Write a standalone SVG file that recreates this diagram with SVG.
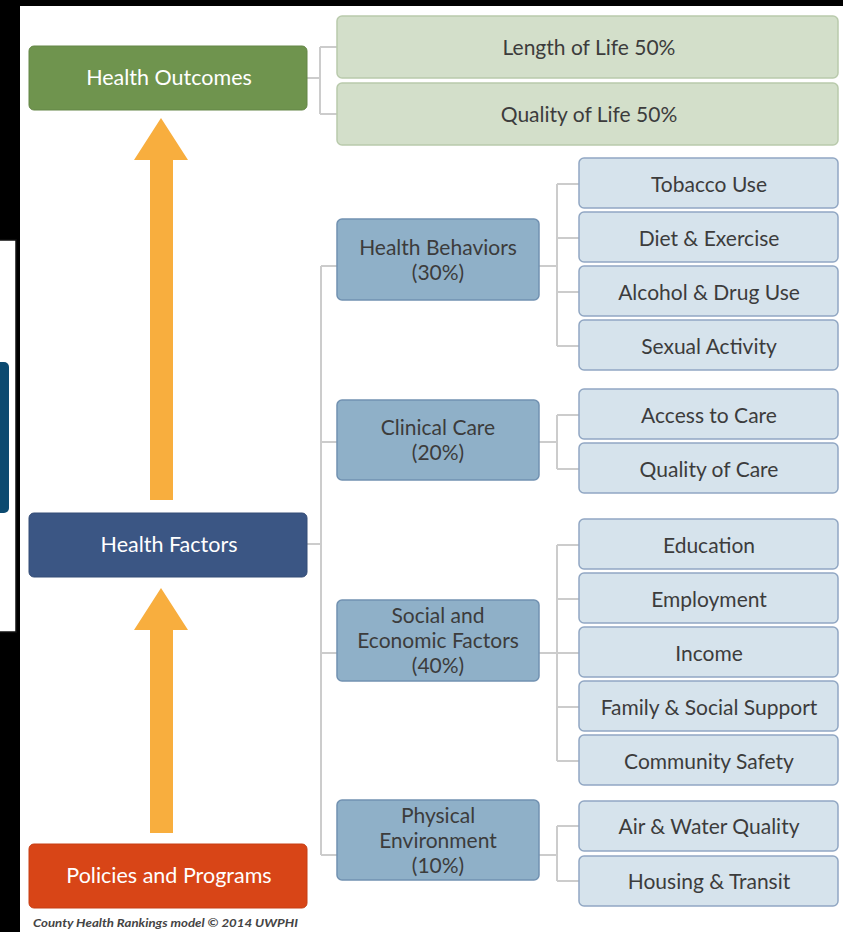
<svg xmlns="http://www.w3.org/2000/svg" width="843" height="932" viewBox="0 0 843 932">
<style>
  .t { font-family: Lato, "Open Sans", "Liberation Sans", sans-serif; text-anchor: middle; dominant-baseline: central; }
  .main { font-size: 21.5px; fill: #ffffff; }
  .lbl { font-size: 21px; fill: #3c3c3c; }
  .green { fill: #d3dfca; stroke: #b9caac; stroke-width: 1.5; }
  .mid { fill: #8fb0c8; stroke: #7191b1; stroke-width: 1.5; }
  .leaf { fill: #d6e3ec; stroke: #91a7c3; stroke-width: 1.5; }
  .conn { fill: none; stroke: #cccccc; stroke-width: 2; }
  .arrow { fill: #f8ae3e; }
</style>
<rect x="0" y="0" width="843" height="932" fill="#000000"/>
<rect x="20" y="6" width="823" height="926" fill="#ffffff"/>
<g id="left-fragment">
  <rect x="-2" y="240" width="18" height="392" fill="#ffffff" stroke="#111111" stroke-width="1.5"/>
  <path d="M0,362 H4 A5,5 0 0 1 9,367 V508 A5,5 0 0 1 4,513 H0 Z" fill="#0c4a70"/>
</g>
<g id="connectors">
  <path class="conn" d="M307,78 H320 M320,47 V114 M320,47 H337 M320,114 H337"/>
  <path class="conn" d="M307,544 H321 M321,266 V855 M321,266 H337 M321,442 H337 M321,653 H337 M321,855 H337"/>
  <path class="conn" d="M539,266 H557 M557,184 V346 M557,184 H579 M557,238 H579 M557,292 H579 M557,346 H579"/>
  <path class="conn" d="M539,442 H557 M557,415 V469 M557,415 H579 M557,469 H579"/>
  <path class="conn" d="M539,653 H557 M557,545 V761 M557,545 H579 M557,599 H579 M557,653 H579 M557,707 H579 M557,761 H579"/>
  <path class="conn" d="M539,855 H557 M557,826 V881 M557,826 H579 M557,881 H579"/>
</g>
<g id="arrow-outcomes">
  <path class="arrow" d="M161,118 L188,160 L173,160 L173,500 L150,500 L150,160 L134,160 Z"/>
</g>
<g id="arrow-factors">
  <path class="arrow" d="M161,588 L188,630 L173,630 L173,833 L150,833 L150,630 L134,630 Z"/>
</g>
<g id="health-outcomes">
  <rect x="29" y="46" width="278" height="64" rx="5" fill="#6f944e" stroke="#648646" stroke-width="1"/>
  <text class="t main" x="169" y="77">Health Outcomes</text>
</g>
<g id="health-factors">
  <rect x="29" y="513" width="278" height="64" rx="5" fill="#3b5684" stroke="#344c76" stroke-width="1"/>
  <text class="t main" x="169" y="544">Health Factors</text>
</g>
<g id="policies-programs">
  <rect x="29" y="844" width="278" height="64" rx="5" fill="#d84517" stroke="#c63e14" stroke-width="1"/>
  <text class="t main" x="169" y="875">Policies and Programs</text>
</g>
<text x="33" y="922" font-family="Lato, 'Open Sans', 'Liberation Sans', sans-serif" font-size="11" font-style="italic" font-weight="bold" fill="#444444" textLength="265" lengthAdjust="spacingAndGlyphs" dominant-baseline="central">County Health Rankings model © 2014 UWPHI</text>
<g id="length-of-life">
  <rect class="green" x="337" y="16" width="501" height="62" rx="5"/>
  <text class="t lbl" x="589" y="46">Length of Life 50%</text>
</g>
<g id="quality-of-life">
  <rect class="green" x="337" y="83" width="501" height="62" rx="5"/>
  <text class="t lbl" x="589" y="113">Quality of Life 50%</text>
</g>
<g id="health-behaviors">
  <rect class="mid" x="337" y="219" width="202" height="81" rx="5"/>
  <text class="t lbl" x="438" y="246">Health Behaviors</text>
  <text class="t lbl" x="438" y="271">(30%)</text>
</g>
<g id="clinical-care">
  <rect class="mid" x="337" y="400" width="202" height="80" rx="5"/>
  <text class="t lbl" x="438" y="426">Clinical Care</text>
  <text class="t lbl" x="438" y="451">(20%)</text>
</g>
<g id="social-economic">
  <rect class="mid" x="337" y="600" width="202" height="81" rx="5"/>
  <text class="t lbl" x="438" y="614">Social and</text>
  <text class="t lbl" x="438" y="639">Economic Factors</text>
  <text class="t lbl" x="438" y="664">(40%)</text>
</g>
<g id="physical-environment">
  <rect class="mid" x="337" y="800" width="202" height="80" rx="5"/>
  <text class="t lbl" x="438" y="814">Physical</text>
  <text class="t lbl" x="438" y="839">Environment</text>
  <text class="t lbl" x="438" y="864">(10%)</text>
</g>
<g id="tobacco-use">
  <rect class="leaf" x="579" y="158" width="259" height="50" rx="5"/>
  <text class="t lbl" x="709" y="183">Tobacco Use</text>
</g>
<g id="diet-exercise">
  <rect class="leaf" x="579" y="212" width="259" height="50" rx="5"/>
  <text class="t lbl" x="709" y="237">Diet &amp; Exercise</text>
</g>
<g id="alcohol-drug-use">
  <rect class="leaf" x="579" y="266" width="259" height="50" rx="5"/>
  <text class="t lbl" x="709" y="291">Alcohol &amp; Drug Use</text>
</g>
<g id="sexual-activity">
  <rect class="leaf" x="579" y="320" width="259" height="50" rx="5"/>
  <text class="t lbl" x="709" y="345">Sexual Activity</text>
</g>
<g id="access-to-care">
  <rect class="leaf" x="579" y="389" width="259" height="50" rx="5"/>
  <text class="t lbl" x="709" y="414">Access to Care</text>
</g>
<g id="quality-of-care">
  <rect class="leaf" x="579" y="443" width="259" height="50" rx="5"/>
  <text class="t lbl" x="709" y="468">Quality of Care</text>
</g>
<g id="education">
  <rect class="leaf" x="579" y="519" width="259" height="50" rx="5"/>
  <text class="t lbl" x="709" y="544">Education</text>
</g>
<g id="employment">
  <rect class="leaf" x="579" y="573" width="259" height="50" rx="5"/>
  <text class="t lbl" x="709" y="598">Employment</text>
</g>
<g id="income">
  <rect class="leaf" x="579" y="627" width="259" height="50" rx="5"/>
  <text class="t lbl" x="709" y="652">Income</text>
</g>
<g id="family-social-support">
  <rect class="leaf" x="579" y="681" width="259" height="50" rx="5"/>
  <text class="t lbl" x="709" y="706">Family &amp; Social Support</text>
</g>
<g id="community-safety">
  <rect class="leaf" x="579" y="735" width="259" height="50" rx="5"/>
  <text class="t lbl" x="709" y="760">Community Safety</text>
</g>
<g id="air-water-quality">
  <rect class="leaf" x="579" y="801" width="259" height="50" rx="5"/>
  <text class="t lbl" x="709" y="825">Air &amp; Water Quality</text>
</g>
<g id="housing-transit">
  <rect class="leaf" x="579" y="856" width="259" height="50" rx="5"/>
  <text class="t lbl" x="709" y="880">Housing &amp; Transit</text>
</g>
</svg>
